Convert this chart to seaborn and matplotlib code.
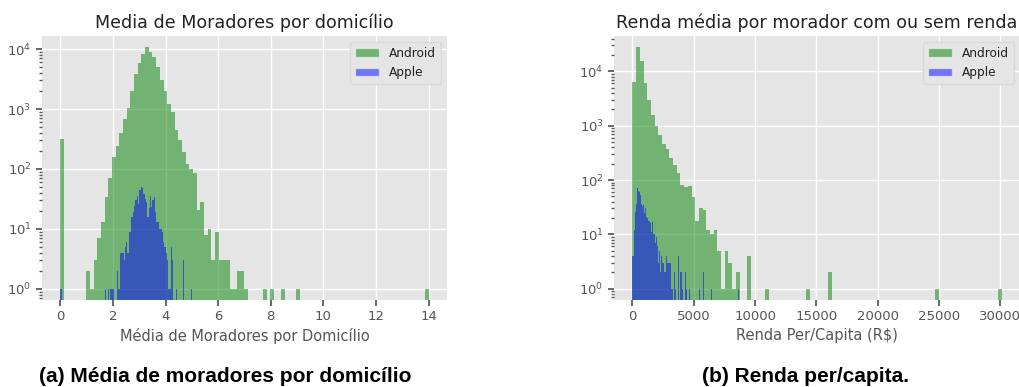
import numpy as np
import pandas as pd
import matplotlib
matplotlib.use("Agg")
import matplotlib.pyplot as plt
from matplotlib.patches import Patch
import seaborn as sns

# ---------------- data ----------------
# Left: "Media de Moradores por domicílio" (100 bins each)
mor_android_range = (0.0, 14.0)
mor_android_counts = [
    320, 0, 0, 0, 0, 0, 0, 2, 1, 3,
    7, 13, 34, 70, 160, 240, 400, 680, 1050, 2000,
    3900, 5900, 8300, 10800, 9000, 7400, 5000, 3100, 2000, 1230,
    900, 450, 300, 190, 120, 100, 85, 21, 28, 8,
    10, 3, 9, 3, 3, 3, 1, 1, 2, 2,
    1, 0, 0, 0, 0, 1, 0, 1, 0, 0,
    1, 0, 0, 0, 1, 0, 0, 0, 0, 0,
    0, 0, 0, 0, 0, 0, 0, 0, 0, 0,
    0, 0, 0, 0, 0, 0, 0, 0, 0, 0,
    0, 0, 0, 0, 0, 0, 0, 0, 0, 1,
]
mor_apple_range = (0.0, 5.0)
mor_apple_counts = [
    1, 0, 0, 0, 0, 0, 0, 0, 0, 0,
    0, 0, 0, 0, 0, 0, 0, 0, 0, 0,
    0, 0, 0, 0, 0, 0, 0, 0, 0, 0,
    0, 0, 0, 0, 1, 0, 1, 0, 1, 1,
    1, 0, 0, 2, 1, 4, 4, 4, 3, 5,
    6, 4, 9, 9, 16, 19, 24, 30, 36, 26,
    45, 50, 48, 38, 32, 28, 16, 22, 36, 23,
    30, 34, 19, 13, 13, 10, 10, 9, 6, 5,
    4, 3, 1, 1, 5, 3, 0, 0, 1, 0,
    0, 0, 0, 3, 0, 0, 0, 0, 0, 1,
]

# Right: "Renda média por morador com ou sem renda" (100 bins each)
renda_android_range = (0.0, 30100.0)
renda_android_counts = [
    6400, 27600, 15700, 6000, 2960, 1570, 1000, 680, 470, 365,
    250, 190, 136, 81, 73, 78, 49, 18, 31, 28,
    12, 10, 12, 5, 1, 5, 3, 1, 2, 0,
    0, 4, 0, 0, 0, 0, 1, 0, 0, 0,
    0, 0, 0, 0, 0, 0, 0, 1, 0, 0,
    0, 0, 0, 2, 0, 0, 0, 0, 0, 0,
    0, 0, 0, 0, 0, 0, 0, 0, 0, 0,
    0, 0, 0, 0, 0, 0, 0, 0, 0, 0,
    0, 0, 1, 0, 0, 0, 0, 0, 0, 0,
    0, 0, 0, 0, 0, 0, 0, 0, 0, 1,
]
renda_apple_range = (0.0, 8700.0)
renda_apple_counts = [
    4, 12, 26, 37, 70, 63, 60, 52, 37, 33,
    35, 25, 30, 21, 20, 18, 16, 11, 17, 10,
    10, 7, 9, 6, 3, 5, 2, 4, 3, 3,
    2, 4, 3, 3, 3, 3, 1, 1, 0, 2,
    1, 0, 0, 4, 0, 2, 1, 0, 0, 2,
    1, 0, 0, 1, 0, 0, 0, 0, 0, 0,
    0, 0, 1, 0, 0, 0, 2, 0, 0, 0,
    0, 0, 0, 0, 1, 0, 0, 0, 0, 0,
    0, 0, 0, 0, 0, 0, 0, 0, 0, 0,
    0, 0, 0, 0, 0, 0, 0, 0, 0, 1,
]

series_labels = ["Android", "Apple"]
series_colors = [(0.0, 0.5, 0.0), (0.0, 0.0, 1.0)]
titles = ["Media de Moradores por domicílio", "Renda média por morador com ou sem renda"]
xlabels = ["Média de Moradores por Domicílio", "Renda Per/Capita (R$)"]
captions = ["(a) Média de moradores por domicílio", "(b) Renda per/capita."]

# ---------------- style ----------------
sns.set_theme(style="darkgrid", color_codes=False, rc={
    "axes.facecolor": "#E5E5E5",
    "grid.color": "white",
    "grid.linewidth": 1.0,
    "axes.edgecolor": "#E5E5E5",
    "axes.labelcolor": "#555555",
    "xtick.color": "#555555",
    "ytick.color": "#555555",
    "xtick.bottom": True,
    "ytick.left": True,
    "xtick.direction": "out",
    "ytick.direction": "out",
    "xtick.major.size": 4,
    "ytick.major.size": 4,
    "ytick.minor.size": 2,
    "text.color": "#222222",
})
plt.rcParams["font.family"] = ["DejaVu Sans"]

fig = plt.figure(figsize=(10.2, 3.87), dpi=100)
ax1 = fig.add_axes([0.0412, 0.2248, 0.397, 0.682])
ax2 = fig.add_axes([0.602, 0.2248, 0.398, 0.682])


def draw(ax, rng, counts, color):
    n = len(counts)
    width = (rng[1] - rng[0]) / n
    centers = rng[0] + width * (np.arange(n) + 0.5)
    df = pd.DataFrame({"value": centers, "count": np.asarray(counts, float)})
    sns.histplot(data=df, x="value", weights="count", bins=n, binrange=rng,
                 ax=ax, color=color, alpha=0.5, linewidth=0, edgecolor="none")


draw(ax1, mor_android_range, mor_android_counts, series_colors[0])
draw(ax1, mor_apple_range, mor_apple_counts, series_colors[1])
draw(ax2, renda_android_range, renda_android_counts, series_colors[0])
draw(ax2, renda_apple_range, renda_apple_counts, series_colors[1])

for ax, title, xl, ylim in [(ax1, titles[0], xlabels[0], (0.65, 16500)),
                            (ax2, titles[1], xlabels[1], (0.62, 44600))]:
    ax.set_yscale("log")
    ax.set_ylim(*ylim)
    ax.margins(x=0.05)
    ax.set_title(title, fontsize=12.6, color="#222222", pad=6)
    ax.set_xlabel(xl, fontsize=10.5, labelpad=3)
    ax.set_ylabel("")
    ax.tick_params(axis="both", which="major", labelsize=9.5)
    ax.tick_params(axis="y", which="minor", left=True, length=2, color="#555555")
    ax.grid(True, which="major", color="white", linewidth=1.0)
    ax.grid(False, which="minor")
    for s in ax.spines.values():
        s.set_visible(False)
    handles = [Patch(facecolor=series_colors[0], alpha=0.5, label=series_labels[0]),
               Patch(facecolor=series_colors[1], alpha=0.5, label=series_labels[1])]
    leg = ax.legend(handles=handles, loc="upper right", fontsize=8.7,
                    frameon=True, facecolor="#E5E5E5", edgecolor="#D8D8D8",
                    framealpha=0.9)
    for t in leg.get_texts():
        t.set_color("#222222")

ax1.set_xticks([0, 2, 4, 6, 8, 10, 12, 14])
ax2.set_xticks([0, 5000, 10000, 15000, 20000, 25000, 30000])

fig.text(0.2205, 0.013, captions[0], ha="center", va="baseline",
         family=["Liberation Sans", "DejaVu Sans"], weight="bold", fontsize=15, color="black")
fig.text(0.790, 0.013, captions[1], ha="center", va="baseline",
         family=["Liberation Sans", "DejaVu Sans"], weight="bold", fontsize=15, color="black")

fig.savefig("out.png", dpi=100)
